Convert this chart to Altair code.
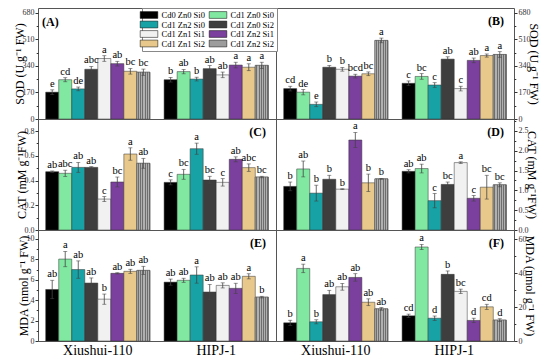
import altair as alt
import pandas as pd

SERIF = "Liberation Serif"

cultivars = ["Xiushui-110", "HIPJ-1"]
treatments = ["Cd0 Zn0 Si0", "Cd1 Zn0 Si0", "Cd1 Zn2 Si0", "Cd1 Zn0 Si2",
              "Cd1 Zn1 Si1", "Cd1 Zn2 Si1", "Cd1 Zn1 Si2", "Cd1 Zn2 Si2"]
colors = ["#000000", "#80e8a0", "#17a2a5", "#3e3e3e",
          "#f1f1f1", "#7b3f9e", "#e8c98b", "#9c9c9c"]

# (A) SOD (left column)
sodA_x = [172, 252, 193, 319, 388, 355, 306, 300]
sodA_h = [252, 304, 256, 323, 283, 346, 332, 344]
sodA_xe = [15, 13, 12, 18, 18, 15, 18, 20]
sodA_he = [15, 14, 12, 20, 18, 18, 22, 20]
sodA_xs = ["e", "cd", "de", "abc", "a", "ab", "bc", "bc"]
sodA_hs = ["b", "ab", "b", "ab", "ab", "a", "a", "a"]

# (B) SOD (right column)
sodB_x = [195, 172, 94, 332, 319, 275, 290, 504]
sodB_h = [229, 273, 218, 384, 195, 376, 407, 414]
sodB_xe = [15, 17, 15, 12, 12, 12, 12, 15]
sodB_he = [15, 18, 15, 15, 15, 15, 10, 18]
sodB_xs = ["cd", "de", "e", "b", "b", "bcd", "bc", "a"]
sodB_hs = ["c", "bc", "c", "ab", "c", "ab", "a", "a"]

# (C) CAT
catC_x = [0.471, 0.458, 0.506, 0.506, 0.250, 0.388, 0.614, 0.539]
catC_h = [0.385, 0.450, 0.657, 0.404, 0.385, 0.571, 0.504, 0.428]
catC_xe = [0.006, 0.025, 0.04, 0.006, 0.02, 0.04, 0.05, 0.04]
catC_he = [0.02, 0.04, 0.045, 0.03, 0.03, 0.02, 0.03, 0.006]
catC_xs = ["ab", "abc", "ab", "ab", "c", "bc", "a", "ab"]
catC_hs = ["c", "bc", "a", "bc", "c", "ab", "abc", "bc"]

# (D) CAT
catD_x = [1.10, 1.54, 0.93, 1.28, 1.03, 2.27, 1.19, 1.29]
catD_h = [1.48, 1.55, 0.74, 1.15, 1.70, 0.80, 1.08, 1.14]
catD_xe = [0.11, 0.20, 0.20, 0.10, 0.01, 0.19, 0.22, 0.01]
catD_he = [0.04, 0.11, 0.18, 0.06, 0.02, 0.07, 0.30, 0.05]
catD_xs = ["b", "ab", "b", "b", "b", "a", "b", "b"]
catD_hs = ["ab", "ab", "c", "bc", "a", "c", "bc", "bc"]

# (E) MDA
mdaE_x = [5.05, 8.03, 7.0, 5.68, 4.10, 6.63, 6.83, 6.92]
mdaE_h = [5.77, 5.95, 6.47, 4.80, 5.45, 5.16, 6.34, 4.30]
mdaE_xe = [0.9, 0.75, 0.85, 0.5, 0.5, 0.06, 0.2, 0.4]
mdaE_he = [0.3, 0.2, 0.8, 0.75, 0.25, 0.5, 0.25, 0.08]
mdaE_xs = ["ab", "a", "ab", "ab", "b", "ab", "ab", "ab"]
mdaE_hs = ["ab", "ab", "a", "ab", "ab", "ab", "a", "b"]

# (F) MDA
mdaF_x = [10.7, 42.7, 11.3, 27.3, 31.9, 37.4, 22.8, 18.9]
mdaF_h = [14.8, 55.3, 13.4, 39.2, 29.2, 12.1, 20.1, 12.3]
mdaF_xe = [1.5, 2.5, 1.2, 2.5, 2.0, 2.2, 2.0, 0.8]
mdaF_he = [1.0, 1.5, 1.3, 2.0, 1.3, 1.3, 1.5, 0.8]
mdaF_xs = ["b", "a", "b", "ab", "ab", "ab", "ab", "ab"]
mdaF_hs = ["cd", "a", "d", "b", "bc", "d", "cd", "d"]

W = 238
H = 111

stripe_stops = []
for i in range(6):
    a = i / 6
    b = (i + 0.55) / 6
    c = (i + 1) / 6
    stripe_stops += [
        {"offset": a, "color": "#b0b0b0"},
        {"offset": b, "color": "#b0b0b0"},
        {"offset": b, "color": "#6e6e6e"},
        {"offset": c, "color": "#6e6e6e"},
    ]
stripe_fill = {"gradient": "linear", "x1": 0, "y1": 0, "x2": 1, "y2": 0,
               "stops": stripe_stops}

legend = alt.Legend(
    orient="none", legendX=104, legendY=0, columns=2, direction="horizontal", title=None,
    symbolType="M-2.2,-0.85H2.2V0.85H-2.2Z", symbolSize=64,
    symbolStrokeColor="#000", symbolStrokeWidth=0.5, symbolOpacity=1,
    labelFont=SERIF, labelFontSize=8.5, labelColor="#000", labelOffset=8,
    rowPadding=0.5, columnPadding=2, padding=2.5,
    strokeColor="#888", fillColor="#fff",
)


def panel(vx, vh, ex, eh, sx, sh, ymax, ticks, minor, fmt, title, tag, orient, bottom,
          tag_left=False):
    df = pd.DataFrame({
        "cultivar": [cultivars[0]] * 8 + [cultivars[1]] * 8,
        "treatment": treatments + treatments,
        "value": vx + vh,
        "err": ex + eh,
        "sig": sx + sh,
    })
    df["lo"] = df["value"] - df["err"]
    df["hi"] = df["value"] + df["err"]
    base = alt.Chart(df)
    if bottom:
        xaxis = alt.Axis(title=None, labelAngle=0, labelFont=SERIF, labelFontSize=14,
                         labelColor="#000", ticks=False, labelPadding=2, domain=False)
    else:
        xaxis = None
    x = alt.X("cultivar:N", sort=cultivars, axis=xaxis,
              scale=alt.Scale(paddingInner=0.12, paddingOuter=0.065))
    xo = alt.XOffset("treatment:N", sort=treatments,
                     scale=alt.Scale(domain=treatments, paddingInner=0, paddingOuter=0))
    sc = alt.Scale(domain=[0, ymax], nice=False, zero=True)
    y = alt.Y("value:Q", scale=sc,
              axis=alt.Axis(orient=orient, values=ticks, format=fmt, title=title,
                            labelFont=SERIF, labelFontSize=8, labelColor="#333",
                            titleFont=SERIF, titleFontSize=12, titleFontWeight="normal",
                            titleColor="#000", tickSize=3, tickColor="#333",
                            domain=False, grid=False, labelPadding=1, titlePadding=-4))
    y_minor = alt.Y("value:Q", scale=sc,
                    axis=alt.Axis(orient=orient, values=minor, labels=False, title=None,
                                  tickSize=1.8, tickColor="#333", domain=False, grid=False))
    bars = base.mark_bar(stroke="#333", strokeWidth=0.5).encode(
        x=x, xOffset=xo, y=y,
        color=alt.Color("treatment:N", sort=treatments,
                        scale=alt.Scale(domain=treatments, range=colors), legend=legend),
    )
    stripes = base.transform_filter(alt.datum.treatment == treatments[7]).mark_bar(
        fill=stripe_fill, stroke="#555", strokeWidth=0.5).encode(
        x=x, xOffset=xo, y=y_minor)
    rule = base.mark_rule(color="#444", strokeWidth=0.8).encode(
        x=x, xOffset=xo, y=alt.Y("lo:Q", axis=None), y2="hi:Q")
    cap_hi = base.mark_tick(color="#444", size=4, thickness=0.8).encode(
        x=x, xOffset=xo, y=alt.Y("hi:Q", axis=None))
    cap_lo = base.mark_tick(color="#444", size=4, thickness=0.8).encode(
        x=x, xOffset=xo, y=alt.Y("lo:Q", axis=None))
    text = base.mark_text(baseline="bottom", dy=-1, font=SERIF, fontSize=10.5,
                          color="#000").encode(
        x=x, xOffset=xo, y=alt.Y("hi:Q", axis=None), text="sig:N")
    tdf = pd.DataFrame({"t": [tag]})
    if tag_left:
        tg = alt.Chart(tdf).mark_text(font=SERIF, fontSize=12, fontWeight="bold",
                                      align="left", baseline="middle").encode(
            x=alt.value(4), y=alt.value(14), text="t:N")
    else:
        tg = alt.Chart(tdf).mark_text(font=SERIF, fontSize=12, fontWeight="bold",
                                      align="right", baseline="middle").encode(
            x=alt.value(W - 10), y=alt.value(13), text="t:N")
    return alt.layer(bars, stripes, rule, cap_hi, cap_lo, text, tg).resolve_axis(
        y="independent").properties(width=W, height=H)


sod_title = "SOD (U g⁻¹ FW)"
cat_title = "CAT (mM g⁻¹FW)"
mda_title = "MDA (nmol g⁻¹ FW)"

pA = panel(sodA_x, sodA_h, sodA_xe, sodA_he, sodA_xs, sodA_hs, 712,
           [0, 170, 340, 510, 680], [85, 255, 425, 595], "d", sod_title, "(A)", "left",
           False, tag_left=True)
pB = panel(sodB_x, sodB_h, sodB_xe, sodB_he, sodB_xs, sodB_hs, 712,
           [0, 170, 340, 510, 680], [85, 255, 425, 595], "d", sod_title, "(B)", "right",
           False)
pC = panel(catC_x, catC_h, catC_xe, catC_he, catC_xs, catC_hs, 0.897,
           [0, 0.2, 0.4, 0.6, 0.8], [0.1, 0.3, 0.5, 0.7], ".1f", cat_title, "(C)", "left",
           False)
pD = panel(catD_x, catD_h, catD_xe, catD_he, catD_xs, catD_hs, 2.80,
           [0, 0.5, 1.0, 1.5, 2.0, 2.5], [0.25, 0.75, 1.25, 1.75, 2.25, 2.75], ".1f",
           cat_title, "(D)", "right", False)
pE = panel(mdaE_x, mdaE_h, mdaE_xe, mdaE_he, mdaE_xs, mdaE_hs, 10.88,
           [0, 2, 4, 6, 8, 10], [1, 3, 5, 7, 9], "d", mda_title, "(E)", "left", True)
pF = panel(mdaF_x, mdaF_h, mdaF_xe, mdaF_he, mdaF_xs, mdaF_hs, 65.3,
           [0, 20, 40, 60], [10, 30, 50], "d", mda_title, "(F)", "right", True)

chart = alt.concat(pA, pB, pC, pD, pE, pF, columns=2, spacing=0, bounds="flush").properties(
    padding={"left": 4, "top": -1, "right": 0, "bottom": 0}
).configure_view(stroke="#555", strokeWidth=1).configure_tick(bandSize=4)

chart.save("out.html", embed_options={"renderer": "svg", "actions": False})
